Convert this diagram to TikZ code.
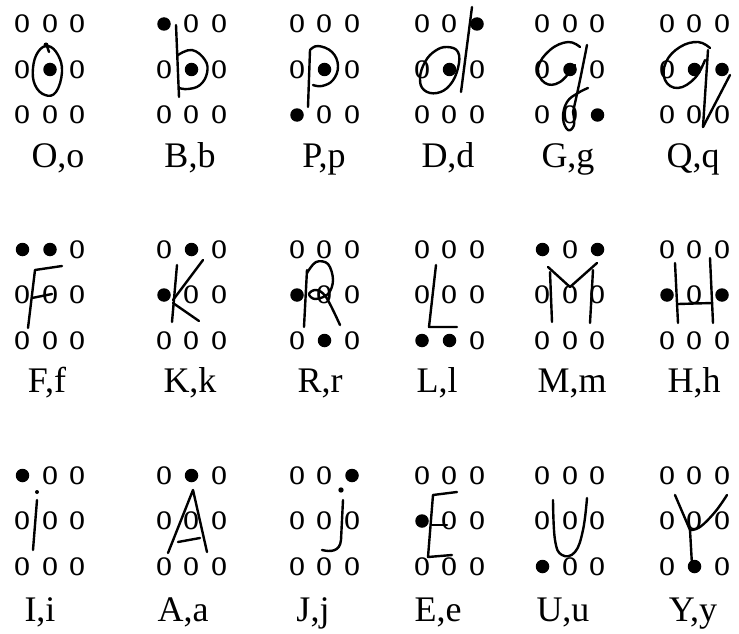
\documentclass[tikz,border=0pt]{standalone}
\usepackage{graphicx}
\usepackage{fontspec}
\setmainfont{Liberation Serif}
\tikzset{
  ochar/.style={inner sep=0pt, font=\fontsize{32}{34}\selectfont},
  dotc/.style={circle, fill=black, inner sep=0pt, minimum size=13.5pt},
  lab/.style={anchor=base, inner sep=0pt, font=\fontsize{36}{40}\selectfont},
  pen/.style={line width=2.4pt, line cap=round, line join=round},
}
\newcommand\brcell[4]{%
  \begin{scope}[shift={#2}]
  \foreach \k in {#3}{%
    \pgfmathsetmacro\gx{27.5*(mod(\k-1,3)-1)}%
    \pgfmathsetmacro\gy{45.5*(div(\k-1,3)-1)}%
    \node[ochar] (#1-\k) at (\gx,\gy) {\scalebox{1}[1.18]{o}};
  }
  \foreach \k in {#4}{%
    \pgfmathsetmacro\gx{27.5*(mod(\k-1,3)-1)}%
    \pgfmathsetmacro\gy{45.5*(div(\k-1,3)-1)}%
    \node[dotc] (#1-\k) at (\gx,\gy) {};
  }
  \end{scope}}
\begin{document}
\begin{tikzpicture}[x=1pt,y=-1pt]
\fill[white] (0,0) rectangle (739,634);
\useasboundingbox (0,0) rectangle (739,634);
% ---------- row 1 ----------
\brcell{O}{(50,69.5)}{1,2,3,4,6,7,8,9}{5}
\brcell{B}{(191.5,69.5)}{2,3,4,6,7,8,9}{1,5}
\brcell{P}{(324.5,69.5)}{1,2,3,4,6,8,9}{5,7}
\brcell{D}{(449.5,69.5)}{1,2,4,6,7,8,9}{3,5}
\brcell{G}{(570,69.5)}{1,2,3,4,6,7,8}{5,9}
\brcell{Q}{(694.5,69.5)}{1,2,3,4,7,8,9}{5,6}
% ---------- row 2 ----------
\brcell{F}{(50,295)}{3,4,5,6,7,8,9}{1,2}
\brcell{K}{(191.5,295)}{1,3,5,6,7,8,9}{2,4}
\brcell{R}{(324.5,295)}{1,2,3,5,6,7,9}{4,8}
\brcell{L}{(449.5,295)}{1,2,3,4,5,6,9}{7,8}
\brcell{M}{(570,295)}{2,4,5,6,7,8,9}{1,3}
\brcell{H}{(694.5,295)}{1,2,3,5,7,8,9}{4,6}
% ---------- row 3 ----------
\brcell{I}{(50,521)}{2,3,4,5,6,7,8,9}{1}
\brcell{A}{(191.5,521)}{1,3,4,5,6,7,8,9}{2}
\brcell{J}{(324.5,521)}{1,2,4,5,6,7,8,9}{3}
\brcell{E}{(449.5,521)}{1,2,3,5,6,7,8,9}{4}
\brcell{U}{(570,521)}{1,2,3,4,5,6,8,9}{7}
\brcell{Y}{(694.5,521)}{1,2,3,4,5,6,7,9}{8}
% ---------- labels ----------
\node[lab] (lO) at (58,167) {O,o};
\node[lab] (lB) at (190,167) {B,b};
\node[lab] (lP) at (324,167) {P,p};
\node[lab] (lD) at (448,167) {D,d};
\node[lab] (lG) at (568,167) {G,g};
\node[lab] (lQ) at (693,167) {Q,q};
\node[lab] (lF) at (47,392) {F,f};
\node[lab] (lK) at (190,392) {K,k};
\node[lab] (lR) at (320,392) {R,r};
\node[lab] (lL) at (437,392) {L,l};
\node[lab] (lM) at (572,392) {M,m};
\node[lab] (lH) at (694,392) {H,h};
\node[lab] (lI) at (40,621) {I,i};
\node[lab] (lA) at (183,621) {A,a};
\node[lab] (lJ) at (313,621) {J,j};
\node[lab] (lE) at (438,621) {E,e};
\node[lab] (lU) at (563,621) {U,u};
\node[lab] (lY) at (693,621) {Y,y};
% ---------- handwritten strokes ----------
% O
\draw[pen] plot[smooth cycle, tension=0.7] coordinates {(48,46) (58,55) (62,72) (56,92) (45,95) (35,85) (33,68) (38,52)};
\fill (46,45) circle (2.5);
\draw[pen] (47,46) -- (49,52);
% B
\draw[pen] (176,25) -- (179,97);
\draw[pen] plot[smooth, tension=0.7] coordinates {(178,55) (192,50) (205,60) (207,73) (200,85) (188,89) (179,88)};
% P
\draw[pen] (310,50) -- (308,107);
\draw[pen] plot[smooth, tension=0.7] coordinates {(310,50) (318,46) (332,52) (338,66) (333,80) (322,86) (313,85)};
% D
\draw[pen] (472,7) -- (461,92);
\draw[pen] plot[smooth cycle, tension=0.7] coordinates {(447,47) (458,52) (458,68) (450,85) (437,93) (424,90) (420,78) (425,62) (435,51)};
% G
\draw[pen] plot[smooth, tension=0.7] coordinates {(580,47) (568,42) (550,50) (538,68) (545,83) (560,82) (575,65)};
\draw[pen] plot[smooth, tension=0.7] coordinates {(587,45) (580,80) (573,112)};
\draw[pen] plot[smooth, tension=0.7] coordinates {(573,112) (574,125) (568,130) (563,118) (567,102) (578,93) (588,88)};
% Q
\draw[pen] plot[smooth, tension=0.7] coordinates {(710,48) (698,42) (680,47) (666,62) (665,80) (678,88) (695,78) (705,60)};
\draw[pen] (708,50) -- (703,127);
\draw[pen] (730,75) -- (703,127);
% F
\draw[pen] (62,266) -- (35,270) -- (28,328);
\draw[pen] (32,298) -- (52,294);
% K
\draw[pen] (177,265) -- (172,322);
\draw[pen] (203,260) -- (173,300);
\draw[pen] (173,303) -- (199,321);
% R
\draw[pen] (307,270) -- (304,327);
\draw[pen] plot[smooth, tension=0.6] coordinates {(307,273) (316,262) (328,264) (333,280) (328,294) (315,299) (309,294) (316,290) (326,297) (340,325)};
% L
\draw[pen] (436,265) -- (429,327) -- (457,327);
% M
\draw[pen] (550,272) -- (552,322);
\draw[pen] (548,267) -- (570,287) -- (597,263);
\draw[pen] (593,270) -- (590,323);
% H
\draw[pen] (675,263) -- (678,323);
\draw[pen] (710,258) -- (713,323);
\draw[pen] (678,304) -- (712,303);
% I
\draw[pen] (37,500) -- (33,550);
\fill (37,492) circle (2);
% A
\draw[pen] (168,553) -- (193,490) -- (207,552);
\draw[pen] (178,542) -- (200,538);
% J
\fill (341,490) circle (2.7);
\draw[pen] (343,500) -- (341,540) .. controls (340,552) and (330,552) .. (322,550);
% E
\draw[pen] (457,492) -- (433,495) -- (428,557) -- (452,555);
\draw[pen] (432,525) -- (447,525);
% U
\draw[pen] plot[smooth, tension=0.7] coordinates {(553,500) (555,540) (562,555) (575,552) (583,530) (587,498)};
% Y
\draw[pen] (675,495) -- (690,530);
\draw[pen] plot[smooth, tension=0.7] coordinates {(727,495) (715,512) (700,527) (690,530)};
\draw[pen] (690,530) -- (692,565);
\end{tikzpicture}
\end{document}
